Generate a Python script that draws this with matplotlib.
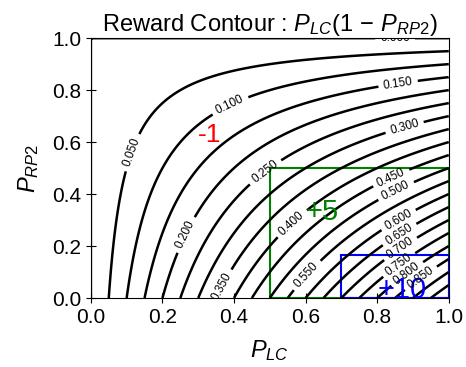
import numpy as np
import matplotlib
matplotlib.use('Agg')
import matplotlib.pyplot as plt

plt.rcParams['font.family'] = ['Liberation Sans', 'DejaVu Sans']
plt.rcParams['mathtext.fontset'] = 'custom'
plt.rcParams['mathtext.rm'] = 'Liberation Sans'
plt.rcParams['mathtext.it'] = 'Liberation Sans:italic'

# grid of probabilities
p_lc = np.linspace(0, 1, 201)
p_rp2 = np.linspace(0, 1, 201)
levels = [0.0, 0.05, 0.10, 0.15, 0.20, 0.25, 0.30, 0.35, 0.40, 0.45, 0.50,
          0.55, 0.60, 0.65, 0.70, 0.75, 0.80, 0.85, 0.90, 0.95, 1.0]

# where the contour labels sit (approx)
label_pos = [(0.85, 0.995), (0.115, 0.56), (0.39, 0.74), (0.86, 0.81), (0.27, 0.24),
             (0.49, 0.48), (0.88, 0.64), (0.37, 0.04), (0.56, 0.29), (0.84, 0.46),
             (0.85, 0.42), (0.61, 0.08), (0.86, 0.30), (0.86, 0.25), (0.86, 0.20),
             (0.86, 0.13), (0.88, 0.10), (0.92, 0.08)]

# reward regions
green_box = (0.5, 0.0, 0.5, 0.5)   # x, y, w, h
blue_box = (0.7, 0.0, 0.3, 0.165)
annotations = [('-1', 0.3, 0.6, 'red', 19), ('+5', 0.6, 0.3, 'green', 21), ('+10', 0.8, 0.0, 'blue', 21)]

X, Y = np.meshgrid(p_lc, p_rp2)
Z = X * (1 - Y)

fig = plt.figure(figsize=(4.66, 3.67), dpi=100)
ax = fig.add_axes([0.195, 0.188, 0.768, 0.708])

cs = ax.contour(X, Y, Z, levels=levels, colors='k', linewidths=1.8)
ax.clabel(cs, inline=True, fontsize=8.5, fmt='%.3f', manual=label_pos)

ax.add_patch(plt.Rectangle(green_box[:2], green_box[2], green_box[3], fill=False, ec='green', lw=1.5))
ax.add_patch(plt.Rectangle(blue_box[:2], blue_box[2], blue_box[3], fill=False, ec='blue', lw=1.5))
for txt, x, y, c, fs in annotations:
    ax.text(x, y, txt, color=c, fontsize=fs)

ax.set_xlim(0, 1)
ax.set_ylim(0, 1)
ax.tick_params(direction='inout', labelsize=15, length=7)
ax.set_xlabel('$P_{LC}$', fontsize=17, labelpad=8)
ax.set_ylabel('$P_{RP2}$', fontsize=17, labelpad=8)
ax.set_title('Reward Contour : $P_{LC}(1\\,-\\,P_{RP2})$', fontsize=17, pad=4)

fig.savefig('out.png', dpi=100)
